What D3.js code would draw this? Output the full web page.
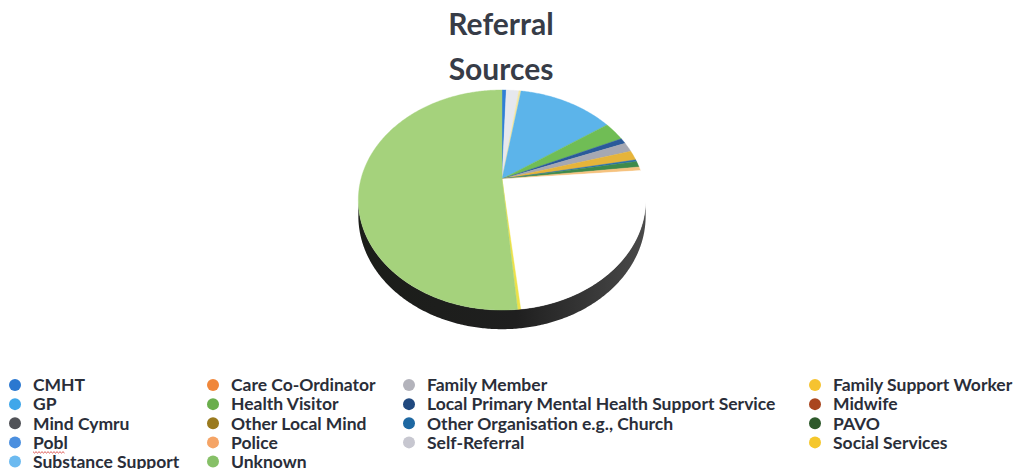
<!DOCTYPE html>
<html>
<meta charset="utf-8">
<style>
    body { margin: 0; background: #fff; }
    .title { font: bold 30px Lato, sans-serif; fill: #373c47; }
    .legend text { font: bold 17.5px Lato, sans-serif; fill: #2a2e39; }
</style>
<body>
<script src="https://d3js.org/d3.v7.min.js"></script>
<script>

    // referral counts, alphabetical order (as the legend reads row by row)
    var sources = ["CMHT", "Care Co-Ordinator", "Family Member", "Family Support Worker",
        "GP", "Health Visitor", "Local Primary Mental Health Support Service", "Midwife",
        "Mind Cymru", "Other Local Mind", "Other Organisation e.g., Church", "PAVO",
        "Pobl", "Police", "Self-Referral", "Social Services",
        "Substance Support", "Unknown"];
    var counts = [2, 0, 6, 1, 45, 10, 3, 0, 5, 5, 1, 3, 0, 2, 86, 1, 0, 180];

    var legendColors = ["#2b78d0", "#f0873a", "#b3b3bb", "#f6c330", "#3fa7ea", "#6aae4c",
        "#21497f", "#a9461f", "#515358", "#9a7a1e", "#1e68a2", "#2f5a2c",
        "#4b8fdf", "#f5a466", "#c7c7d0", "#f5c72c", "#6cbaf0", "#86c067"];
    // top faces look lighter in the printed copy
    var sliceColors = ["#2f7fd6", "#f08a3c", "#e6e8ee", "#f3e7a0", "#5cb4ea", "#70bd55",
        "#2a5a9a", "#a9461f", "#a6a8b2", "#e6b43a", "#2a70aa", "#3e8a4c",
        "#4b8fdf", "#f6c27e", "#ffffff", "#eee24a", "#6cbaf0", "#a5d27c"];

    var width = 1017, height = 469;

    var svg = d3.select("body").append("svg")
        .attr("width", width)
        .attr("height", height);

    svg.append("text").attr("class", "title")
        .attr("x", 501).attr("y", 35)
        .attr("text-anchor", "middle")
        .text("Referral");
    svg.append("text").attr("class", "title")
        .attr("x", 501).attr("y", 80)
        .attr("text-anchor", "middle")
        .text("Sources");

    // perspective pie: angle measured clockwise from the back (12 o'clock)
    var cx = 502, cy = 179, a = 141, b = 106, p = 0.191, depth = 15.5;

    function proj(t, down) {
        var u = Math.sin(t), v = -Math.cos(t), k = 1 - p * v;
        return [cx + a * u / k, cy + (b * v + (down ? depth : 0)) / k];
    }

    function rim(t0, t1, down) {
        var n = Math.max(2, Math.ceil(Math.abs(t1 - t0) / 0.01));
        return d3.range(n + 1).map(function(i) { return proj(t0 + (t1 - t0) * i / n, down); });
    }

    var pie = d3.pie().sort(null).value(function(d) { return d; });
    var arcs = pie(counts);

    // outer wall, visible part only
    var tl = Math.acos(-p), tr = 2 * Math.PI - Math.acos(-p);
    var grad = svg.append("defs").append("linearGradient")
        .attr("id", "wall").attr("x1", "0%").attr("x2", "100%");
    grad.append("stop").attr("offset", "0%").attr("stop-color", "#1b1d19");
    grad.append("stop").attr("offset", "55%").attr("stop-color", "#1f1f1f");
    grad.append("stop").attr("offset", "100%").attr("stop-color", "#4a4a4a");

    var wall = rim(tl, tr, false).concat(rim(tr, tl, true));
    svg.append("path")
        .attr("d", d3.line()(wall) + "Z")
        .attr("fill", "url(#wall)");

    // top faces
    svg.append("g").selectAll("path")
        .data(arcs.filter(function(d) { return d.value > 0; }))
        .enter().append("path")
        .attr("d", function(d) {
            return d3.line()([[cx, cy]].concat(rim(d.startAngle, d.endAngle, false))) + "Z";
        })
        .attr("fill", function(d) { return sliceColors[d.index]; })
        .attr("stroke", function(d) { return sliceColors[d.index]; })
        .attr("stroke-width", 0.4);

    // legend, 4 columns filled row by row
    var colX = [15, 213, 409, 815];
    var rowY = d3.scaleLinear().domain([0, 4]).range([385, 461.5]);

    var item = svg.append("g").attr("class", "legend")
        .selectAll("g")
        .data(sources)
        .enter().append("g")
        .attr("transform", function(d, i) {
            return "translate(" + colX[i % 4] + "," + rowY(Math.floor(i / 4)) + ")";
        });

    item.append("circle")
        .attr("r", 6)
        .attr("fill", function(d, i) { return legendColors[i]; });

    item.append("text")
        .attr("x", 18)
        .attr("dy", "0.36em")
        .text(function(d) { return d; });

    // spell-check squiggle under "Pobl"
    var pobl = sources.indexOf("Pobl");
    var sq = d3.range(0, 33, 1.5).map(function(x, i) {
        return [colX[pobl % 4] + 18 + x, rowY(Math.floor(pobl / 4)) + 9.5 + (i % 2 ? 1.2 : -0.2)];
    });
    svg.append("path")
        .attr("d", d3.line()(sq))
        .attr("fill", "none")
        .attr("stroke", "#d9453f")
        .attr("stroke-width", 0.9);

</script>
</html>
